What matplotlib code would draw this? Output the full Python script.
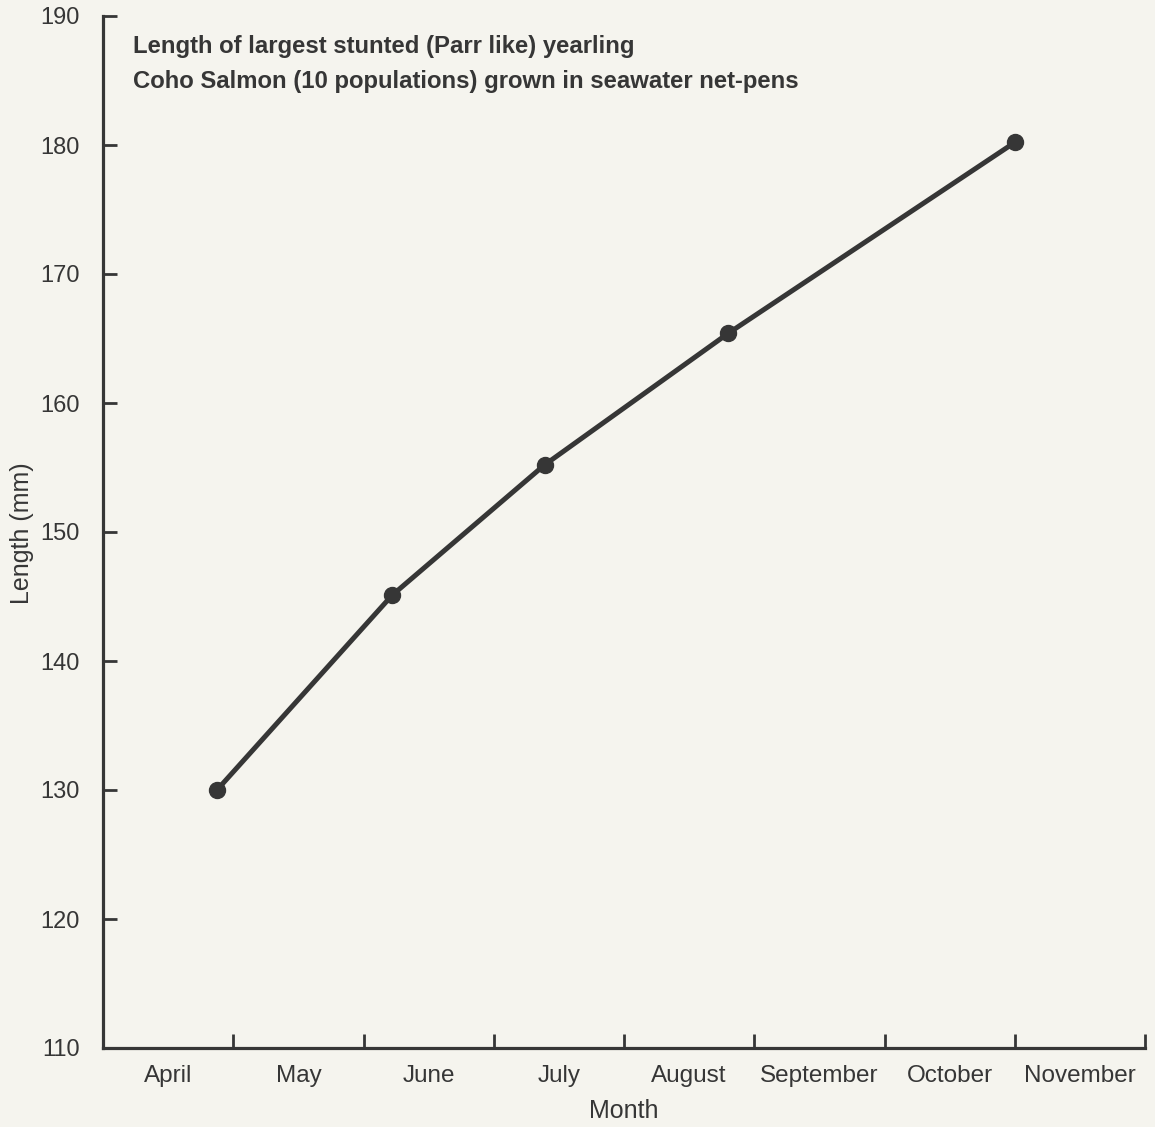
import matplotlib
matplotlib.use("Agg")
import matplotlib.pyplot as plt
import numpy as np

# Data (x in months since April 1)
month_pos = [0.875, 2.22, 3.39, 4.80, 7.0]
length_mm = [130.0, 145.1, 155.2, 165.4, 180.2]
month_labels = ["April", "May", "June", "July", "August", "September", "October", "November"]
y_ticks = [110, 120, 130, 140, 150, 160, 170, 180, 190]
title_lines = ["Length of largest stunted (Parr like) yearling",
               "Coho Salmon (10 populations) grown in seawater net-pens"]

ink = "#363636"
bg = "#f5f4ee"
plt.rcParams['font.family'] = ['Liberation Sans', 'DejaVu Sans']

fig = plt.figure(figsize=(11.55, 11.27), dpi=100, facecolor=bg)
ax = fig.add_axes([103/1155, 1 - 1048/1127, 1042/1155, 1032/1127])
ax.set_facecolor(bg)

ax.plot(month_pos, length_mm, color=ink, lw=3.6, marker='o', ms=11.5,
        solid_capstyle='round', zorder=3)

ax.set_xlim(0, 8)
ax.set_ylim(110, 190)

for s in ['top', 'right']:
    ax.spines[s].set_visible(False)
for s in ['left', 'bottom']:
    ax.spines[s].set_color(ink)
    ax.spines[s].set_linewidth(2.3)

ax.set_yticks(y_ticks)
ax.set_yticklabels([str(v) for v in y_ticks])
ax.tick_params(axis='y', direction='in', length=10, width=2, color=ink,
               labelsize=17, labelcolor=ink, pad=17)

ax.set_xticks(np.arange(0, 9))
ax.set_xticklabels([])
ax.set_xticks(np.arange(len(month_labels)) + 0.5, minor=True)
ax.set_xticklabels(month_labels, minor=True)
ax.tick_params(axis='x', which='major', direction='in', length=10, width=2, color=ink)
ax.tick_params(axis='x', which='minor', length=0, labelsize=17.5, labelcolor=ink, pad=12)

ax.set_xlabel("Month", fontsize=18, color=ink, labelpad=9)
fig.text(22/1155, 1 - 533/1127, "Length (mm)", fontsize=18, color=ink,
         rotation=90, ha='center', va='center')

fig.text(133/1155, 1 - 53/1127, title_lines[0], fontsize=17.2, fontweight='bold',
         color=ink, ha='left', va='baseline')
fig.text(133/1155, 1 - 88/1127, title_lines[1], fontsize=17.2, fontweight='bold',
         color=ink, ha='left', va='baseline')

fig.savefig("out.png", dpi=100, facecolor=bg)
